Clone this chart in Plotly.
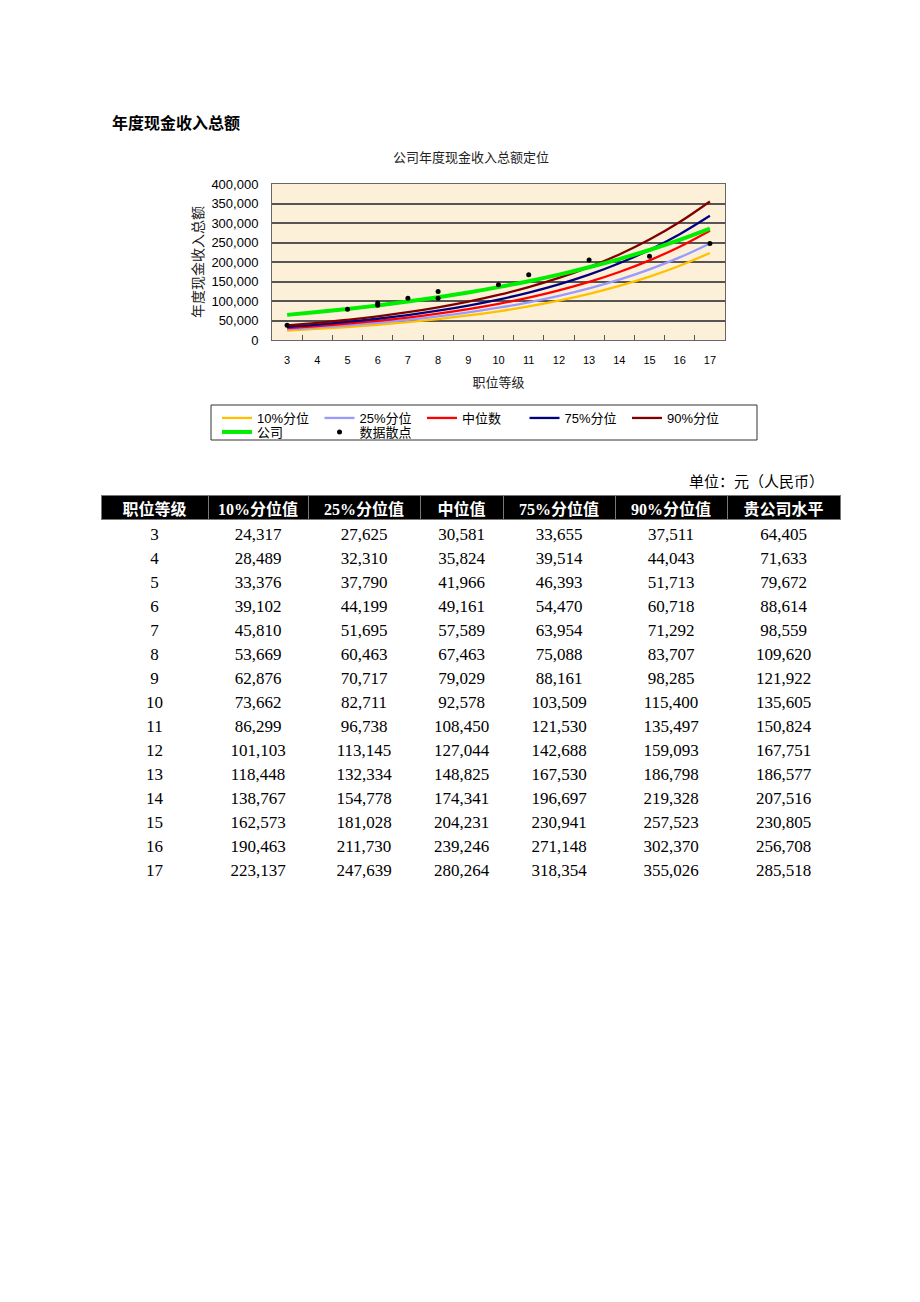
import plotly.graph_objects as go

# ---------------- data ----------------
grades = [3, 4, 5, 6, 7, 8, 9, 10, 11, 12, 13, 14, 15, 16, 17]
p10 = [24317, 28489, 33376, 39102, 45810, 53669, 62876, 73662, 86299, 101103, 118448, 138767, 162573, 190463, 223137]
p25 = [27625, 32310, 37790, 44199, 51695, 60463, 70717, 82711, 96738, 113145, 132334, 154778, 181028, 211730, 247639]
p50 = [30581, 35824, 41966, 49161, 57589, 67463, 79029, 92578, 108450, 127044, 148825, 174341, 204231, 239246, 280264]
p75 = [33655, 39514, 46393, 54470, 63954, 75088, 88161, 103509, 121530, 142688, 167530, 196697, 230941, 271148, 318354]
p90 = [37511, 44043, 51713, 60718, 71292, 83707, 98285, 115400, 135497, 159093, 186798, 219328, 257523, 302370, 355026]
company = [64405, 71633, 79672, 88614, 98559, 109620, 121922, 135605, 150824, 167751, 186577, 207516, 230805, 256708, 285518]

scatter_grade = [3, 5, 6, 6, 7, 8, 8, 10, 11, 13, 15, 17]
scatter_value = [38000, 79000, 95000, 89000, 107000, 107000, 124500, 141500, 167000, 205000, 214500, 247500]

series_names = ["10%分位", "25%分位", "中位数", "75%分位", "90%分位"]
table_header = ["职位等级", "10%分位值", "25%分位值", "中位值", "75%分位值", "90%分位值", "贵公司水平"]

# ---------------- figure ----------------
W, H = 920, 1302
def px_x(x):
    return x / W
def px_y(y):
    return 1 - y / H

cats = [str(g) for g in grades]
colors = ["#FFC000", "#9999FF", "#FF0000", "#000080", "#800000"]

fig = go.Figure()
for name, vals, c in zip(series_names, [p10, p25, p50, p75, p90], colors):
    fig.add_trace(go.Scatter(
        x=cats, y=vals, name=name, mode="lines",
        line=dict(color=c, width=2.3, shape="spline", smoothing=1.0),
        legend="legend"))

fig.add_trace(go.Scatter(
    x=cats, y=company, name="公司", mode="lines",
    line=dict(color="#00EE00", width=4, shape="spline", smoothing=1.0),
    legend="legend2"))

fig.add_trace(go.Scatter(
    x=[str(g) for g in scatter_grade], y=scatter_value, name="数据散点", mode="markers",
    marker=dict(color="black", size=5), legend="legend2"))

def fmt(v):
    return f"{v:,}"

serif = "Liberation Serif, Noto Sans CJK SC"
fig.add_trace(go.Table(
    domain=dict(x=[px_x(101), px_x(840)], y=[px_y(892), px_y(495)]),
    columnwidth=[107, 100, 112, 83, 112, 112, 113],
    header=dict(
        values=table_header,
        fill_color="black",
        line=dict(color="#777777", width=1),
        font=dict(family=serif, size=16, color="white", weight="bold"),
        align="center", height=24),
    cells=dict(
        values=[[str(g) for g in grades]] + [[fmt(v) for v in col] for col in [p10, p25, p50, p75, p90, company]],
        fill_color="white",
        line=dict(color="white", width=0),
        font=dict(family=serif, size=17, color="black"),
        align="center", height=24)))

cjk = "Liberation Sans, Noto Sans CJK SC"

fig.update_layout(
    width=W, height=H,
    margin=dict(l=0, r=0, t=0, b=0, autoexpand=False),
    paper_bgcolor="white",
    plot_bgcolor="#FCF1D8",
    showlegend=True,
    title=dict(text="公司年度现金收入总额定位", x=px_x(471), y=px_y(157),
               xanchor="center", yanchor="middle", xref="paper", yref="paper",
               font=dict(family=cjk, size=13, color="#222222")),
    xaxis=dict(
        domain=[px_x(272), px_x(725)], type="category", categoryarray=cats,
        range=[-0.5, 14.5], autorange=False,
        tickson="boundaries", ticks="inside", ticklen=5, tickcolor="#555555",
        showgrid=False, showline=True, mirror=True, linecolor="#666666", linewidth=1,
        tickfont=dict(family=cjk, size=11, color="black"), ticklabelstandoff=10,
        title=dict(text="职位等级", font=dict(family=cjk, size=13, color="#222222"), standoff=12)),
    yaxis=dict(
        domain=[px_y(340), px_y(184)], range=[0, 400000], autorange=False, dtick=50000, tickformat=",",
        showgrid=True, gridcolor="#555555", gridwidth=1.5, zeroline=False,
        showline=True, mirror=True, linecolor="#666666", linewidth=1, ticks="",
        tickfont=dict(family=cjk, size=13, color="black"), ticklabelstandoff=10,
        title=dict(text="年度现金收入总额", font=dict(family=cjk, size=14, color="#222222"), standoff=4)),
    legend=dict(orientation="h", x=px_x(217), xanchor="left", y=px_y(418), yanchor="middle",
                entrywidth=57.5, entrywidthmode="pixels", bgcolor="rgba(0,0,0,0)",
                font=dict(family=cjk, size=13, color="black"), tracegroupgap=0),
    legend2=dict(orientation="h", x=px_x(217), xanchor="left", y=px_y(432), yanchor="middle",
                 entrywidth=57.5, entrywidthmode="pixels", bgcolor="rgba(0,0,0,0)",
                 font=dict(family=cjk, size=13, color="black"), tracegroupgap=0),
    shapes=[dict(type="rect", xref="paper", yref="paper",
                 x0=px_x(211), x1=px_x(757), y0=px_y(440), y1=px_y(405),
                 line=dict(color="#333333", width=1), fillcolor="rgba(0,0,0,0)")],
    annotations=[
        dict(text="<b>年度现金收入总额</b>", x=px_x(110), y=px_y(122), xref="paper", yref="paper",
             xanchor="left", yanchor="middle", showarrow=False,
             font=dict(family="Noto Sans CJK SC", size=16, color="black")),
        dict(text="单位：元（人民币）", x=px_x(826), y=px_y(482), xref="paper", yref="paper",
             xanchor="right", yanchor="middle", showarrow=False,
             font=dict(family=serif, size=15, color="black")),
    ],
)

fig.write_html("out.html")
